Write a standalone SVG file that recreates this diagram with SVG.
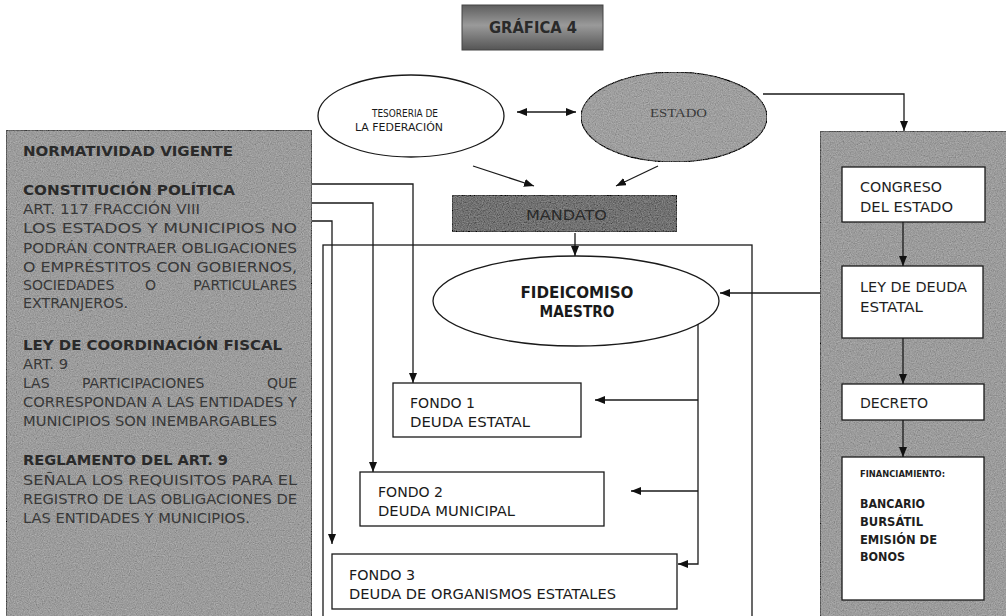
<svg xmlns="http://www.w3.org/2000/svg" width="1006" height="616" viewBox="0 0 1006 616">
<defs>
<style>
.t{font-family:"DejaVu Sans","Liberation Sans",sans-serif;}
.lt{font-family:"DejaVu Sans","Liberation Sans",sans-serif;font-size:14px;fill:#383838;}
.lb{font-family:"DejaVu Sans","Liberation Sans",sans-serif;font-size:14px;font-weight:bold;fill:#2a2a2a;}
.bx{fill:#ffffff;stroke:#1a1a1a;stroke-width:1.3;}
.rt{font-family:"DejaVu Sans","Liberation Sans",sans-serif;font-size:14px;fill:#1e1e1e;}
.ft{font-family:"DejaVu Sans","Liberation Sans",sans-serif;font-size:14px;fill:#1a1a1a;}
.cn{fill:none;stroke:#1a1a1a;stroke-width:1.3;}
.ar{marker-end:url(#ah);}
.panel{fill:#9c9c9c;stroke:#4a4a4a;stroke-width:1.5;filter:url(#grain);}
</style>
<marker id="ah" viewBox="0 0 10 8" refX="10" refY="4" markerWidth="10" markerHeight="8" markerUnits="userSpaceOnUse" orient="auto-start-reverse">
<path d="M0,0 L10,4 L0,8 z" fill="#111"/>
</marker>
<filter id="grain" x="0" y="0" width="100%" height="100%">
<feTurbulence type="fractalNoise" baseFrequency="0.85" numOctaves="2" seed="4" result="n"/>
<feColorMatrix in="n" type="matrix" values="0.33 0.33 0.33 0 0 0.33 0.33 0.33 0 0 0.33 0.33 0.33 0 0 0 0 0 0 1" result="g"/>
<feComposite in="SourceGraphic" in2="g" operator="arithmetic" k1="0" k2="1" k3="0.5" k4="-0.25" result="m"/>
<feComposite in="m" in2="SourceGraphic" operator="in"/>
</filter>
<linearGradient id="tg" x1="0" y1="0" x2="0" y2="1">
<stop offset="0" stop-color="#5e5e5e"/>
<stop offset="0.45" stop-color="#9a9a9a"/>
<stop offset="1" stop-color="#555555"/>
</linearGradient>
</defs>
<rect width="1006" height="616" fill="#ffffff"/>

<g id="title">
<rect x="462" y="5" width="141" height="45" fill="url(#tg)" stroke="#444" stroke-width="1"/>
<text class="t" x="533" y="33" font-size="15" font-weight="bold" fill="#2a2a2a" text-anchor="middle" textLength="88" lengthAdjust="spacingAndGlyphs">GRÁFICA 4</text>
</g>

<g id="frame">
<rect x="323" y="245" width="429" height="380" fill="none" stroke="#1a1a1a" stroke-width="1.3"/>
</g>

<g id="normatividad">
<rect class="panel" x="6" y="130" width="306" height="495"/>
<text class="lb" x="23" y="156" textLength="210" lengthAdjust="spacingAndGlyphs">NORMATIVIDAD VIGENTE</text>
<text class="lb" x="23" y="195" textLength="212" lengthAdjust="spacingAndGlyphs">CONSTITUCIÓN POLÍTICA</text>
<text class="lt" x="23" y="214" textLength="177" lengthAdjust="spacingAndGlyphs">ART. 117 FRACCIÓN VIII</text>
<text class="lt" x="23" y="233" textLength="274" lengthAdjust="spacingAndGlyphs">LOS ESTADOS Y MUNICIPIOS NO</text>
<text class="lt" x="23" y="253" textLength="274" lengthAdjust="spacingAndGlyphs">PODRÁN CONTRAER OBLIGACIONES</text>
<text class="lt" x="23" y="272" textLength="274" lengthAdjust="spacingAndGlyphs">O EMPRÉSTITOS CON GOBIERNOS,</text>
<text class="lt" y="290"><tspan x="23">SOCIEDADES</tspan><tspan x="145">O</tspan><tspan x="297" text-anchor="end">PARTICULARES</tspan></text>
<text class="lt" x="23" y="308" textLength="105" lengthAdjust="spacingAndGlyphs">EXTRANJEROS.</text>
<text class="lb" x="23" y="350" textLength="259" lengthAdjust="spacingAndGlyphs">LEY DE COORDINACIÓN FISCAL</text>
<text class="lt" x="23" y="369" textLength="45" lengthAdjust="spacingAndGlyphs">ART. 9</text>
<text class="lt" y="388"><tspan x="23">LAS</tspan><tspan x="82">PARTICIPACIONES</tspan><tspan x="297" text-anchor="end">QUE</tspan></text>
<text class="lt" x="23" y="407" textLength="274" lengthAdjust="spacingAndGlyphs">CORRESPONDAN A LAS ENTIDADES Y</text>
<text class="lt" x="23" y="426" textLength="254" lengthAdjust="spacingAndGlyphs">MUNICIPIOS SON INEMBARGABLES</text>
<text class="lb" x="23" y="465" textLength="205" lengthAdjust="spacingAndGlyphs">REGLAMENTO DEL ART. 9</text>
<text class="lt" x="23" y="485" textLength="274" lengthAdjust="spacingAndGlyphs">SEÑALA LOS REQUISITOS PARA EL</text>
<text class="lt" x="23" y="504" textLength="274" lengthAdjust="spacingAndGlyphs">REGISTRO DE LAS OBLIGACIONES DE</text>
<text class="lt" x="23" y="523" textLength="227" lengthAdjust="spacingAndGlyphs">LAS ENTIDADES Y MUNICIPIOS.</text>
</g>

<g id="tesoreria">
<ellipse cx="411" cy="116" rx="93" ry="41" fill="#ffffff" stroke="#1a1a1a" stroke-width="1.3"/>
<text class="t" x="372" y="117" font-size="10.5" fill="#1a1a1a" textLength="66" lengthAdjust="spacingAndGlyphs">TESORERIA DE</text>
<text class="t" x="355" y="131" font-size="10.5" fill="#1a1a1a" textLength="88" lengthAdjust="spacingAndGlyphs">LA FEDERACIÓN</text>
</g>

<g id="estado">
<ellipse cx="674" cy="117" rx="93" ry="45" fill="#9f9f9f" stroke="#333" stroke-width="1.3" filter="url(#grain)"/>
<text x="650" y="117" font-family="Liberation Serif,serif" font-size="13" fill="#3a3a3a" textLength="57" lengthAdjust="spacingAndGlyphs">ESTADO</text>
</g>

<g id="mandato">
<rect x="452" y="195" width="225" height="37" fill="#727272" stroke="#333" stroke-width="1.3" filter="url(#grain)"/>
<text class="t" x="526" y="220" font-size="14" fill="#2a2a2a" textLength="81" lengthAdjust="spacingAndGlyphs">MANDATO</text>
</g>

<g id="fideicomiso">
<ellipse cx="576" cy="301" rx="143" ry="45" fill="#ffffff" stroke="#1a1a1a" stroke-width="1.3"/>
<text class="t" x="577" y="298" font-size="15" font-weight="bold" fill="#1a1a1a" text-anchor="middle" textLength="113" lengthAdjust="spacingAndGlyphs">FIDEICOMISO</text>
<text class="t" x="577" y="317" font-size="15" font-weight="bold" fill="#1a1a1a" text-anchor="middle" textLength="75" lengthAdjust="spacingAndGlyphs">MAESTRO</text>
</g>

<g id="fondo1">
<rect class="bx" x="393" y="383" width="188" height="54"/>
<text class="ft" x="410" y="408" textLength="65" lengthAdjust="spacingAndGlyphs">FONDO 1</text>
<text class="ft" x="410" y="427" textLength="120" lengthAdjust="spacingAndGlyphs">DEUDA ESTATAL</text>
</g>

<g id="fondo2">
<rect class="bx" x="360" y="472" width="244" height="54"/>
<text class="ft" x="378" y="497" textLength="65" lengthAdjust="spacingAndGlyphs">FONDO 2</text>
<text class="ft" x="378" y="516" textLength="137" lengthAdjust="spacingAndGlyphs">DEUDA MUNICIPAL</text>
</g>

<g id="fondo3">
<rect class="bx" x="332" y="554" width="345" height="55"/>
<text class="ft" x="349" y="580" textLength="66" lengthAdjust="spacingAndGlyphs">FONDO 3</text>
<text class="ft" x="349" y="599" textLength="267" lengthAdjust="spacingAndGlyphs">DEUDA DE ORGANISMOS ESTATALES</text>
</g>

<g id="panel-estado">
<rect class="panel" x="820" y="131" width="190" height="495"/>
</g>

<g id="congreso">
<rect class="bx" x="842" y="167" width="143" height="55"/>
<text class="rt" x="860" y="192" textLength="82" lengthAdjust="spacingAndGlyphs">CONGRESO</text>
<text class="rt" x="860" y="212" textLength="93" lengthAdjust="spacingAndGlyphs">DEL ESTADO</text>
</g>

<g id="ley-deuda">
<rect class="bx" x="842" y="266" width="141" height="72"/>
<text class="rt" x="860" y="292" textLength="107" lengthAdjust="spacingAndGlyphs">LEY DE DEUDA</text>
<text class="rt" x="860" y="312" textLength="63" lengthAdjust="spacingAndGlyphs">ESTATAL</text>
</g>

<g id="decreto">
<rect class="bx" x="842" y="384" width="142" height="36"/>
<text class="rt" x="860" y="408" textLength="68" lengthAdjust="spacingAndGlyphs">DECRETO</text>
</g>

<g id="financiamiento">
<rect class="bx" x="842" y="457" width="142" height="143"/>
<text class="t" x="860" y="477" font-size="9.5" font-weight="bold" fill="#1e1e1e" textLength="85" lengthAdjust="spacingAndGlyphs">FINANCIAMIENTO:</text>
<text class="t" x="860" y="508" font-size="12" font-weight="bold" fill="#1e1e1e" textLength="65" lengthAdjust="spacingAndGlyphs">BANCARIO</text>
<text class="t" x="860" y="526" font-size="12" font-weight="bold" fill="#1e1e1e" textLength="63" lengthAdjust="spacingAndGlyphs">BURSÁTIL</text>
<text class="t" x="860" y="544" font-size="12" font-weight="bold" fill="#1e1e1e" textLength="77" lengthAdjust="spacingAndGlyphs">EMISIÓN DE</text>
<text class="t" x="860" y="561" font-size="12" font-weight="bold" fill="#1e1e1e" textLength="45" lengthAdjust="spacingAndGlyphs">BONOS</text>
</g>

<g id="connectors">
<line class="cn" x1="517" y1="112" x2="576" y2="112" marker-start="url(#ah)" marker-end="url(#ah)"/>
<line class="cn ar" x1="473" y1="166" x2="534" y2="186"/>
<line class="cn ar" x1="658" y1="166" x2="616" y2="186"/>
<polyline class="cn ar" points="763,94 904,94 904,131"/>
<line class="cn ar" x1="575" y1="233" x2="575" y2="256"/>
<line class="cn ar" x1="903" y1="222" x2="903" y2="266"/>
<line class="cn ar" x1="903" y1="338" x2="903" y2="384"/>
<line class="cn ar" x1="903" y1="420" x2="903" y2="457"/>
<line class="cn ar" x1="820" y1="293" x2="720" y2="293"/>
<polyline class="cn ar" points="312,184 413,184 413,383"/>
<polyline class="cn ar" points="312,203 373,203 373,472"/>
<polyline class="cn ar" points="312,221 332,221 332,544"/>
<polyline class="cn ar" points="698,324 698,564 678,564"/>
<line class="cn ar" x1="698" y1="400" x2="595" y2="400"/>
<line class="cn ar" x1="698" y1="491" x2="631" y2="491"/>
</g>
</svg>
